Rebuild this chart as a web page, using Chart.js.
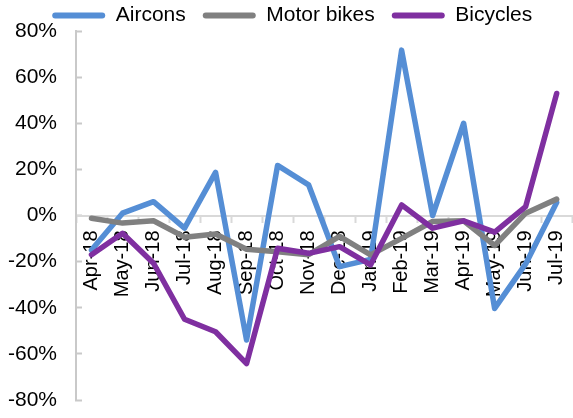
<!DOCTYPE html>
<html>
<head>
<meta charset="utf-8">
<script src="https://cdn.jsdelivr.net/npm/chart.js@4/dist/chart.umd.min.js"></script>
<style>
    html, body { margin: 0; padding: 0; background: #fff; overflow: hidden; }
    #wrap { width: 573px; height: 418px; overflow: hidden; }
</style>
</head>
<body>
<div id="wrap"><canvas id="chart" width="590" height="418"></canvas></div>
<script>
'use strict';

const months = ['Apr-18', 'May-18', 'Jun-18', 'Jul-18', 'Aug-18', 'Sep-18', 'Oct-18', 'Nov-18',
    'Dec-18', 'Jan-19', 'Feb-19', 'Mar-19', 'Apr-19', 'May-19', 'Jun-19', 'Jul-19'];
const aircons = [-15, 1, 6, -5.5, 18.7, -54, 21.7, 13.3, -22.2, -19, 71.7, 0, 40, -40.3, -21, 5.6];
const motorBikes = [-1.2, -3.3, -2.3, -9.4, -8, -14.6, -15.7, -17, -9.1, -17.1, -9.9, -2.6, -2.3, -13, 1, 7.1];
const bicycles = [-17, -7.7, -20.7, -45, -50.4, -64.2, -14.2, -16.4, -13.5, -21.4, 4.6, -5.5, -2.3, -7.2, 3.9, 52.9];
const yMin = -80, yMax = 80, yStep = 20;

const FONT = 'Liberation Sans, Arial, sans-serif';

// legend box height is fixed so the plot starts where the reference does
const legendHeight = {
    id: 'legendHeight',
    beforeLayout(chart) {
        const lg = chart.legend;
        if (lg && !lg._fixed) {
            const fit = lg.fit.bind(lg);
            lg.fit = function () { fit(); this.height = 43; };
            lg._fixed = true;
        }
    }
};

function series(label, data, color, order) {
    return {
        label: label,
        data: data,
        borderColor: color,
        backgroundColor: color,
        borderWidth: 5.5,
        pointRadius: 0,
        tension: 0,
        borderJoinStyle: 'round',
        borderCapStyle: 'round',
        order: order
    };
}

new Chart(document.getElementById('chart').getContext('2d'), {
    type: 'line',
    data: {
        labels: months,
        datasets: [
            series('Aircons', aircons, '#558ED5', 3),
            series('Motor bikes', motorBikes, '#808080', 2),
            series('Bicycles', bicycles, '#7F2FA0', 1)
        ]
    },
    options: {
        responsive: false,
        animation: false,
        devicePixelRatio: 1,
        layout: {padding: {left: 5, right: 10.5, top: -12, bottom: 18}},
        plugins: {
            tooltip: {enabled: false},
            legend: {
                reverse: true,
                labels: {
                    color: '#000',
                    font: {family: FONT, size: 21},
                    boxWidth: 53,
                    boxHeight: 6,
                    padding: 17,
                    generateLabels(chart) {
                        const items = Chart.defaults.plugins.legend.labels.generateLabels(chart);
                        items.forEach(function (it) { it.lineWidth = 0; it.borderRadius = 3; });
                        return items;
                    }
                }
            }
        },
        scales: {
            x: {
                type: 'category',
                position: {y: 0},
                offset: true,
                grid: {offset: true, drawOnChartArea: false, tickLength: 6, color: '#d9d9d9', tickWidth: 2},
                border: {color: '#d9d9d9', width: 2},
                ticks: {
                    color: '#000',
                    font: {family: FONT, size: 20},
                    maxRotation: 90,
                    minRotation: 90,
                    autoSkip: false,
                    padding: 9
                }
            },
            y: {
                min: yMin,
                max: yMax,
                afterFit(scale) {
                    scale.width = 71;
                    scale.paddingTop = 0;
                    scale.paddingBottom = 0;
                },
                grid: {drawOnChartArea: false, tickLength: -6, color: '#c9c9c9', tickWidth: 2},
                border: {color: '#c9c9c9', width: 2},
                ticks: {
                    stepSize: yStep,
                    color: '#000',
                    font: {family: FONT, size: 21},
                    padding: 25,
                    callback: function (v) { return v + '%'; }
                }
            }
        }
    },
    plugins: [legendHeight]
});
</script>
</body>
</html>
